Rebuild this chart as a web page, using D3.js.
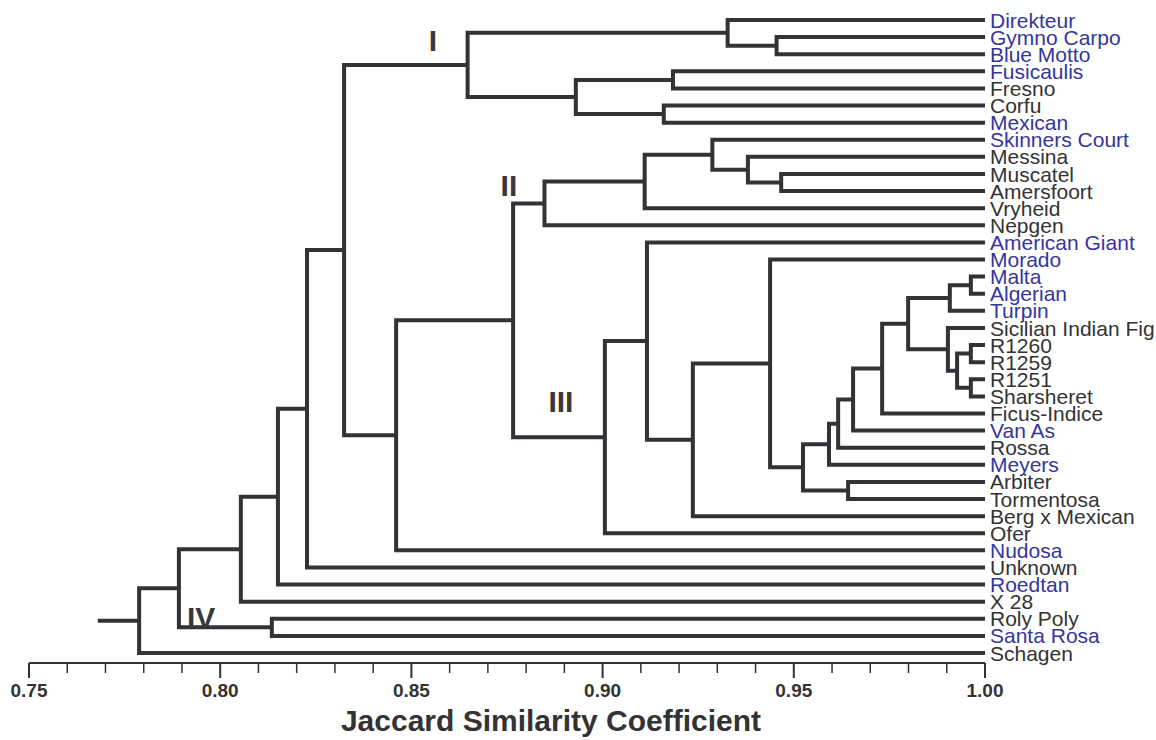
<!DOCTYPE html>
<html>
<head>
<meta charset="utf-8">
<script src="https://cdn.jsdelivr.net/npm/d3@7"></script>
<style>
  body { margin: 0; background: #fff; }
  svg { display: block; }
</style>
</head>
<body>
<svg></svg>
<script>
const width = 1156;
const height = 740;

// leaf order, top to bottom
const leaves = [
  "Direkteur", "Gymno Carpo", "Blue Motto", "Fusicaulis", "Fresno", "Corfu", "Mexican",
  "Skinners Court", "Messina", "Muscatel", "Amersfoort", "Vryheid", "Nepgen",
  "American Giant", "Morado", "Malta", "Algerian", "Turpin", "Sicilian Indian Fig",
  "R1260", "R1259", "R1251", "Sharsheret", "Ficus-Indice", "Van As", "Rossa", "Meyers",
  "Arbiter", "Tormentosa", "Berg x Mexican", "Ofer", "Nudosa", "Unknown", "Roedtan",
  "X 28", "Roly Poly", "Santa Rosa", "Schagen"
];

// names drawn in blue
const blueLeaves = [
  "Direkteur", "Gymno Carpo", "Blue Motto", "Fusicaulis", "Mexican", "Skinners Court",
  "American Giant", "Morado", "Malta", "Algerian", "Turpin", "Van As", "Meyers",
  "Nudosa", "Roedtan", "Santa Rosa"
];

// merges: [id, left, right, similarity]
const merges = [
  ["c1", "Gymno Carpo", "Blue Motto", 0.9455],
  ["c2", "Direkteur", "c1", 0.9327],
  ["c3", "Fusicaulis", "Fresno", 0.9184],
  ["c4", "Corfu", "Mexican", 0.9160],
  ["c5", "c3", "c4", 0.8930],
  ["c6", "c2", "c5", 0.8647],
  ["c7", "Muscatel", "Amersfoort", 0.9467],
  ["c8", "Messina", "c7", 0.9380],
  ["c9", "Skinners Court", "c8", 0.9287],
  ["c10", "c9", "Vryheid", 0.9110],
  ["c11", "c10", "Nepgen", 0.8848],
  ["c12", "Malta", "Algerian", 0.9963],
  ["c13", "c12", "Turpin", 0.9908],
  ["c14", "R1260", "R1259", 0.9963],
  ["c15", "R1251", "Sharsheret", 0.9963],
  ["c16", "c14", "c15", 0.9927],
  ["c17", "Sicilian Indian Fig", "c16", 0.9903],
  ["c18", "c13", "c17", 0.9799],
  ["c19", "c18", "Ficus-Indice", 0.9731],
  ["c20", "c19", "Van As", 0.9655],
  ["c21", "c20", "Rossa", 0.9616],
  ["c22", "c21", "Meyers", 0.9592],
  ["c23", "Arbiter", "Tormentosa", 0.9642],
  ["c24", "c22", "c23", 0.9524],
  ["c25", "Morado", "c24", 0.9438],
  ["c26", "c25", "Berg x Mexican", 0.9236],
  ["c27", "American Giant", "c26", 0.9116],
  ["c28", "c27", "Ofer", 0.9006],
  ["c29", "c11", "c28", 0.8766],
  ["c30", "c29", "Nudosa", 0.8460],
  ["c31", "c6", "c30", 0.8324],
  ["c32", "c31", "Unknown", 0.8227],
  ["c33", "c32", "Roedtan", 0.8151],
  ["c34", "c33", "X 28", 0.8054],
  ["c35", "Roly Poly", "Santa Rosa", 0.8135],
  ["c36", "c34", "c35", 0.7892],
  ["c37", "c36", "Schagen", 0.7788]
];
const rootStub = 0.768;

// group labels: [label, similarity, row (fractional leaf index)]
const groups = [
  ["I", 0.8556, 1.2],
  ["II", 0.8755, 9.65],
  ["III", 0.8891, 22.3],
  ["IV", 0.7950, 34.9]
];

const axisTicks = [0.75, 0.80, 0.85, 0.90, 0.95, 1.00];

const lineColor = "#333337";
const blue = "#3535a0";
const black = "#333333";
const font = "'Liberation Sans', Arial, sans-serif";

const svg = d3.select("svg").attr("width", width).attr("height", height);

const x = d3.scaleLinear().domain([0.75, 1.0]).range([29, 985]);
const y = d3.scalePoint().domain(leaves).range([20, 653]);
const row = d3.scaleLinear().domain([0, leaves.length - 1]).range([20, 653]);

// node positions
const nodes = {};
leaves.forEach(name => { nodes[name] = { x: x(1.0), y: y(name) }; });
merges.forEach(([id, a, b, s]) => {
  nodes[id] = { x: x(s), y: (nodes[a].y + nodes[b].y) / 2 };
});

const g = svg.append("g")
  .attr("fill", "none")
  .attr("stroke", lineColor)
  .attr("stroke-width", 4);

g.selectAll("path.link")
  .data(merges)
  .enter().append("path")
  .attr("class", "link")
  .attr("d", ([id, a, b]) => {
    const n = nodes[id], p = nodes[a], q = nodes[b];
    return `M${p.x},${p.y}H${n.x}V${q.y}H${q.x}`;
  });

const root = nodes[merges[merges.length - 1][0]];
g.append("path").attr("d", `M${root.x},${root.y}H${x(rootStub)}`);

// leaf labels
svg.append("g").selectAll("text")
  .data(leaves)
  .enter().append("text")
  .attr("x", x(1.0) + 5)
  .attr("y", d => y(d))
  .attr("dy", "0.36em")
  .style("font-family", font)
  .style("font-size", "21px")
  .attr("fill", d => blueLeaves.includes(d) ? blue : black)
  .text(d => d);

// group numerals
svg.append("g").selectAll("text")
  .data(groups)
  .enter().append("text")
  .attr("x", d => x(d[1]))
  .attr("y", d => row(d[2]))
  .attr("dy", "0.36em")
  .attr("text-anchor", "middle")
  .style("font-family", font)
  .style("font-weight", "bold")
  .style("font-size", "30px")
  .attr("fill", "#38383c")
  .text(d => d[0]);

// axis
const axisY = 663;
const axis = svg.append("g").attr("transform", `translate(0,${axisY})`);
axis.append("line")
  .attr("x1", x(0.75)).attr("x2", x(1.0))
  .attr("stroke", lineColor).attr("stroke-width", 2.2);

const minor = d3.range(0, 26).map(i => 0.75 + i * 0.01);
axis.selectAll("line.tick")
  .data(minor)
  .enter().append("line")
  .attr("class", "tick")
  .attr("x1", d => x(d)).attr("x2", d => x(d))
  .attr("y1", 0)
  .attr("y2", (d, i) => i % 5 === 0 ? 15 : 10)
  .attr("stroke", lineColor)
  .attr("stroke-width", (d, i) => i % 5 === 0 ? 2 : 1.5);

axis.selectAll("text")
  .data(axisTicks)
  .enter().append("text")
  .attr("x", d => x(d))
  .attr("y", 34)
  .attr("text-anchor", "middle")
  .style("font-family", font)
  .style("font-weight", "bold")
  .style("font-size", "19px")
  .attr("fill", black)
  .text(d => d.toFixed(2));

svg.append("text")
  .attr("x", 551)
  .attr("y", 731)
  .attr("text-anchor", "middle")
  .style("font-family", font)
  .style("font-weight", "bold")
  .style("font-size", "30px")
  .attr("fill", black)
  .text("Jaccard Similarity Coefficient");
</script>
</body>
</html>
